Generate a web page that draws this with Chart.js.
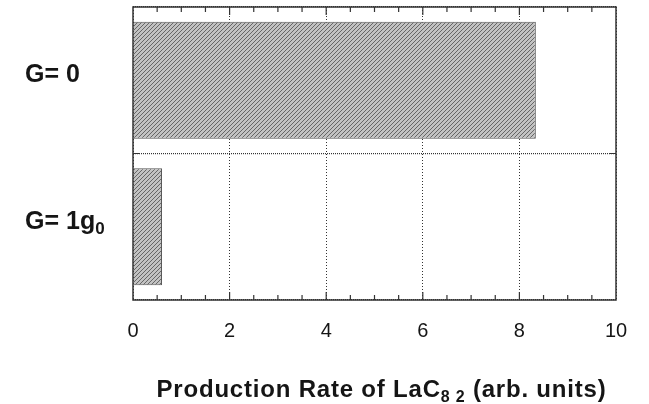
<!DOCTYPE html>
<html>
<head>
<meta charset="utf-8">
<script src="https://cdn.jsdelivr.net/npm/chart.js@4/dist/chart.umd.min.js"></script>
<style>
  html, body { margin: 0; background: #fff; }
  #wrap { width: 649px; height: 404px; }
</style>
</head>
<body>
<div id="wrap"><canvas id="myChart"></canvas></div>
<script>
// data ("_" marks a subscript)
const categories = ["G= 0", "G= 1g_0"];
const rates = [8.34, 0.6];
const xMin = 0, xMax = 10, xStep = 2, minorStep = 0.5;
const xTitle = "Production Rate of LaC_{8 2} (arb. units)";

const FONT = "'Liberation Sans', Arial, Helvetica, sans-serif";
const INK = "#151515";

// split "abc_x" / "abc_{xy}" into [text, isSub] parts
function parseSub(str) {
  const parts = [];
  const re = /_\{([^}]*)\}|_(.)/g;
  let last = 0, m;
  while ((m = re.exec(str)) !== null) {
    if (m.index > last) parts.push([str.slice(last, m.index), false]);
    parts.push([m[1] !== undefined ? m[1] : m[2], true]);
    last = re.lastIndex;
  }
  if (last < str.length) parts.push([str.slice(last), false]);
  return parts;
}

function drawRich(ctx, str, x, y, size, align, spacing) {
  const parts = parseSub(str);
  const subSize = Math.round(size * 0.68);
  ctx.letterSpacing = (spacing || 0) + "px";
  let total = 0;
  parts.forEach(p => {
    ctx.font = "bold " + (p[1] ? subSize : size) + "px " + FONT;
    total += ctx.measureText(p[0]).width;
  });
  let cx = align === "center" ? x - total / 2 : x;
  ctx.textAlign = "left";
  ctx.textBaseline = "middle";
  ctx.fillStyle = INK;
  parts.forEach(p => {
    ctx.font = "bold " + (p[1] ? subSize : size) + "px " + FONT;
    ctx.fillText(p[0], cx, p[1] ? y + size * 0.3 : y);
    cx += ctx.measureText(p[0]).width;
  });
  ctx.letterSpacing = "0px";
}

// diagonal hatch like the printed bars
function hatch() {
  const n = 4;
  const c = document.createElement("canvas");
  c.width = n; c.height = n;
  const g = c.getContext("2d");
  g.fillStyle = "#c2c2c2";
  g.fillRect(0, 0, n, n);
  g.strokeStyle = "#666";
  g.lineWidth = 1;
  g.beginPath();
  g.moveTo(0, n); g.lineTo(n, 0);
  g.moveTo(-1, 1); g.lineTo(1, -1);
  g.moveTo(n - 1, n + 1); g.lineTo(n + 1, n - 1);
  g.stroke();
  return g.createPattern(c, "repeat");
}

const frame = {
  id: "frame",
  afterDraw(chart) {
    const { ctx, chartArea: a } = chart;
    const xs = chart.scales.x, ys = chart.scales.y;
    ctx.save();
    ctx.strokeStyle = "#333";
    ctx.lineWidth = 1.5;
    ctx.strokeRect(a.left, a.top, a.right - a.left, a.bottom - a.top);

    // minor / major ticks, inside, top and bottom
    ctx.lineWidth = 1.2;
    ctx.beginPath();
    for (let v = xMin + minorStep; v < xMax; v += minorStep) {
      const px = xs.getPixelForValue(v);
      const len = Math.abs(v % xStep) < 1e-6 ? 8 : 5;
      ctx.moveTo(px, a.bottom); ctx.lineTo(px, a.bottom - len);
      ctx.moveTo(px, a.top); ctx.lineTo(px, a.top + len);
    }
    // ticks where the category boundary meets the sides
    for (let i = 1; i < categories.length; i++) {
      const py = (ys.getPixelForValue(i - 1) + ys.getPixelForValue(i)) / 2;
      ctx.moveTo(a.left, py); ctx.lineTo(a.left + 6, py);
      ctx.moveTo(a.right, py); ctx.lineTo(a.right - 6, py);
    }
    ctx.stroke();

    // category labels with subscripts
    categories.forEach((lab, i) => {
      drawRich(ctx, lab, 25, ys.getPixelForValue(i) - 5, 25, "left");
    });

    // axis title
    drawRich(ctx, xTitle, (a.left + a.right) / 2 + 7, 390, 24, "center", 0.8);
    ctx.restore();
  }
};

new Chart(document.getElementById("myChart"), {
  type: "bar",
  data: {
    labels: categories,
    datasets: [{
      data: rates,
      backgroundColor: hatch(),
      borderColor: "#555",
      borderWidth: 1,
      categoryPercentage: 0.8,
      barPercentage: 1
    }]
  },
  options: {
    indexAxis: "y",
    responsive: true,
    maintainAspectRatio: false,
    animation: false,
    layout: { padding: { left: 133, right: 33, top: 7, bottom: 0 } },
    plugins: { legend: { display: false }, tooltip: { enabled: false } },
    scales: {
      x: {
        min: xMin,
        max: xMax,
        ticks: {
          stepSize: xStep,
          color: INK,
          padding: 19,
          font: { family: FONT, size: 20 }
        },
        grid: { color: "#333", lineWidth: 1, drawTicks: false },
        border: { display: false, dash: [1, 2] },
        afterFit: s => { s.height = 104; }
      },
      y: {
        ticks: { display: false },
        grid: { color: "#333", lineWidth: 1.2, drawTicks: false, offset: true },
        border: { display: false, dash: [1, 1] },
        afterFit: s => { s.width = 0; }
      }
    }
  },
  plugins: [frame]
});
</script>
</body>
</html>
